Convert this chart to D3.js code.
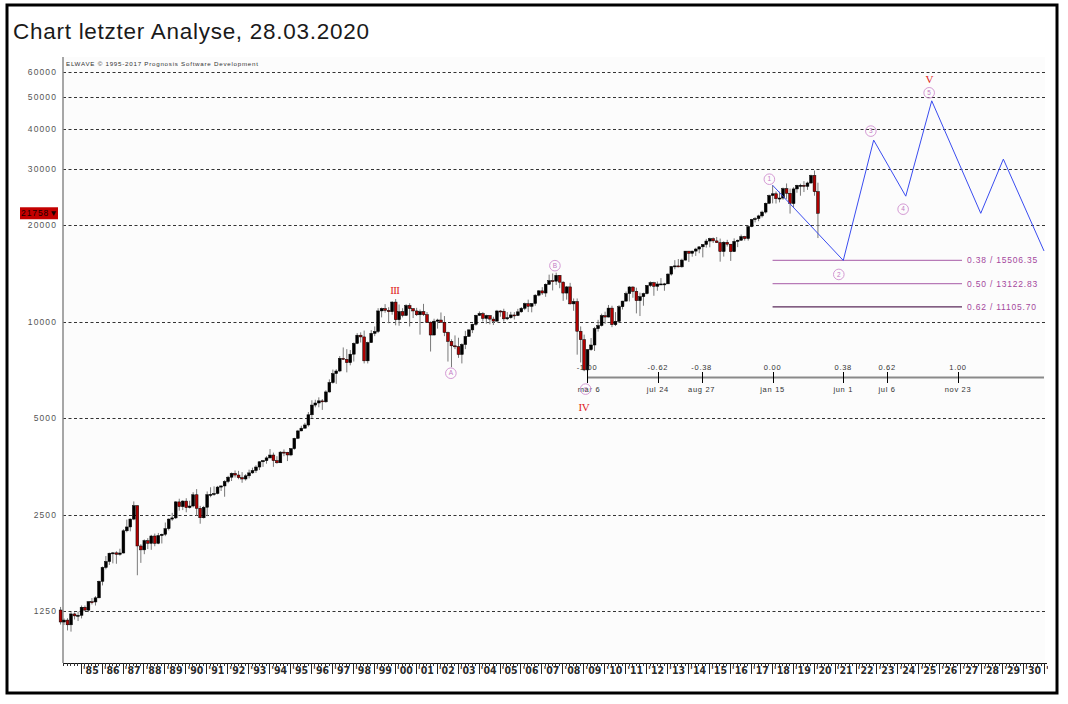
<!DOCTYPE html>
<html><head><meta charset="utf-8">
<script src="https://cdn.jsdelivr.net/npm/d3@7"></script>
<style>body{margin:0;background:#fff;}svg{display:block}</style>
</head><body><svg id="c" width="1068" height="704"></svg>
<script>
// ---------- data ----------
const titleText = "Chart letzter Analyse, 28.03.2020";
const creditText = "ELWAVE © 1995-2017 Prognosis Software Development";
const firstPeriod = "1984-01-01";           // bimonthly bars
const ohlc = [
[1259,1287,1134,1155],[1155,1185,1130,1171],[1171,1187,1087,1132],[1132,1240,1078,1224],[1224,1237,1176,1207],[1207,1245,1163,1212],
[1212,1300,1185,1284],[1284,1300,1247,1258],[1258,1340,1240,1336],[1336,1372,1310,1334],[1334,1390,1300,1374],[1374,1555,1370,1547],
[1547,1720,1502,1709],[1709,1855,1686,1784],[1784,1900,1740,1893],[1893,1910,1760,1898],[1898,1920,1755,1878],[1878,1955,1860,1896],
[1896,2250,1890,2224],[2224,2410,2200,2286],[2286,2430,2215,2419],[2419,2746,2400,2663],[2663,2670,1616,1994],[1994,2020,1766,1939],
[1939,2090,1880,2072],[2072,2110,1950,2032],[2032,2160,1940,2142],[2142,2180,1990,2032],[2032,2190,2020,2149],[2149,2180,2030,2169],
[2169,2360,2140,2258],[2258,2430,2230,2419],[2419,2530,2390,2440],[2440,2750,2420,2737],[2737,2800,2570,2645],[2645,2770,2580,2753],
[2753,2810,2540,2627],[2627,2760,2610,2657],[2657,2935,2630,2881],[2881,3000,2480,2614],[2614,2660,2340,2442],[2442,2660,2430,2634],
[2634,2950,2470,2882],[2882,3040,2830,2888],[2888,3060,2860,2907],[2907,3070,2890,3044],[3044,3080,2960,3069],[3069,3200,2840,3169],
[3169,3300,3130,3268],[3268,3380,3180,3359],[3359,3430,3260,3319],[3319,3420,3220,3257],[3257,3390,3140,3226],[3226,3340,3190,3301],
[3301,3450,3240,3371],[3371,3500,3350,3428],[3428,3560,3370,3516],[3516,3660,3440,3651],[3651,3700,3520,3681],[3681,3800,3600,3754],
[3754,4000,3740,3832],[3832,3900,3520,3682],[3682,3800,3600,3625],[3625,3940,3620,3913],[3913,3990,3800,3908],[3908,3920,3670,3834],
[3834,4030,3800,4011],[4011,4340,3980,4321],[4321,4590,4300,4556],[4556,4730,4550,4647],[4647,4830,4640,4756],[4756,5220,4700,5117],
[5117,5680,5000,5486],[5486,5700,5400,5569],[5569,5800,5400,5655],[5655,5730,5300,5616],[5616,6100,5580,6029],[6029,6600,6000,6448],
[6448,7080,6400,6878],[6878,7100,6390,7009],[7009,7800,6950,7673],[7673,8300,7600,7622],[7622,8200,6940,7442],[7442,8150,7300,7908],
[7908,8600,7500,8546],[8546,9200,8500,9063],[9063,9250,8600,8952],[8952,9370,7400,7539],[7539,8650,7400,8592],[8592,9400,8600,9181],
[9181,9650,9000,9307],[9307,11000,9200,10789],[10789,11050,10300,10971],[10971,11330,10650,10829],[10829,11080,9880,10729],[10729,11570,10500,11497],
[11497,11750,9730,10128],[10128,11300,9700,10734],[10734,11000,10300,10448],[10448,11320,10400,11215],[11215,11400,9650,10971],[10971,10990,10250,10787],
[10787,11030,10400,10495],[10495,10900,9100,10735],[10735,11350,10400,10502],[10502,10700,9900,9950],[9950,10000,8060,9075],[9075,10200,9050,10022],
[10022,10200,9500,10106],[10106,10670,9900,9946],[9946,10400,9000,9243],[9243,9300,7500,8664],[8664,8800,7200,8397],[8397,9050,8200,8342],
[8342,8900,7700,7891],[7891,8550,7400,8480],[8480,9350,8200,8985],[8985,9450,8950,9416],[9416,9850,9200,9801],[9801,10500,9700,10454],
[10454,10750,10400,10584],[10584,10700,10000,10226],[10226,10500,9850,10435],[10435,10470,9800,10174],[10174,10350,9750,10027],[10027,10870,10000,10783],
[10783,10850,10350,10766],[10766,10960,10000,10193],[10193,10700,10100,10275],[10275,10720,10200,10482],[10482,10700,10150,10440],[10440,10950,10400,10718],
[10718,11100,10650,10993],[10993,11450,10850,11367],[11367,11700,10700,11150],[11150,11400,10680,11381],[11381,12170,11200,12081],[12081,12530,11980,12463],
[12463,12800,12100,12269],[12269,13150,11940,13063],[13063,14000,13000,13409],[13409,14120,12500,13358],[13358,14200,13000,13930],[13930,13950,12700,13265],
[13265,13350,11600,12266],[12266,12900,11700,12820],[12820,13200,11300,11350],[11350,11800,10800,11544],[11544,11800,7880,9325],[9325,9650,7450,8776],
[8776,9100,7000,7063],[7063,8200,6470,8168],[8168,8880,8100,8447],[8447,9620,8090,9496],[9496,10120,9300,9713],[9713,10580,9650,10428],
[10428,10730,9830,10325],[10325,11260,10300,11009],[11009,11200,9600,9774],[9774,10700,9680,10015],[10015,11250,9950,11118],[11118,11600,10900,11578],
[11578,12400,11550,12226],[12226,12900,11550,12811],[12811,12880,11860,12414],[12414,12750,10600,11614],[11614,12300,10400,11955],[11955,12300,11200,12218],
[12218,13000,12150,12952],[12952,13340,12800,13214],[13214,13300,12030,12880],[12880,13330,12470,13091],[13091,13660,13000,13096],[13096,13200,12470,13104],
[13104,14150,13100,14054],[14054,14890,13900,14840],[14840,15540,14550,14910],[14910,15660,14760,14810],[14810,15700,14720,15546],[15546,16590,15500,16577],
[16577,16600,15340,16322],[16322,16630,15930,16581],[16581,16980,16020,16827],[16827,17150,16330,17098],[17098,17400,15850,17391],[17391,18100,17000,17823],
[17823,18250,17040,18133],[18133,18290,17580,17841],[17841,18350,17580,17620],[17620,18140,15370,16528],[16528,17800,15940,17664],[17664,17980,17130,17425],
[17425,17450,15450,16517],[16517,18170,16500,17774],[17774,18020,17060,17930],[17930,18670,17850,18401],[18401,18500,17880,18142],[18142,19990,17880,19763],
[19763,20900,19680,20812],[20812,21170,20380,20941],[20941,21530,20550,21350],[21350,22180,21100,21948],[21948,23490,21710,23377],[23377,24880,23240,24719],
[24719,26620,23360,25029],[25029,25450,23340,24163],[24163,25400,23530,24271],[24271,26170,23990,25965],[25965,26950,24120,25116],[25116,25980,21710,23327],
[23327,26240,22640,25916],[25916,26700,25210,26593],[26593,26900,24680,26600],[26600,27400,25340,26403],[26403,27310,25740,27046],[27046,28700,26880,28538],
[28538,29570,24680,25409],[25409,27100,18210,21758]
];
const yTicks = [1250, 2500, 5000, 10000, 20000, 30000, 40000, 50000, 60000];
const lastPrice = 21758;

const fibTimeRatios = ["-1.00","-0.62","-0.38","0.00","0.38","0.62","1.00"];
const fibTimeDates  = ["2009-03-06","2012-07-24","2014-08-27","2018-01-15","2021-06-01","2023-07-06","2026-11-23"];
const fibTimeLabels = ["mar 6","jul 24","aug 27","jan 15","jun 1","jul 6","nov 23"];
const fibTimeEnd = "2031-01-01";

const fibRatios = ["0.38","0.50","0.62"];
const fibPrices = [15506.35, 13122.83, 11105.70];
const fibStart = "2018-01-15", fibEnd = "2027-02-01";

const waveDates  = ["2018-01-15","2021-06-01","2022-11-13","2024-05-26","2025-08-22","2027-12-25","2029-01-22","2031-01-01"];
const waveValues = [26617, 15506, 36800, 24600, 48800, 21750, 32100, 16600];

const circLabels = ["A","B","C","1","2","3","4","5"];
const circDates  = ["2002-09-05","2007-08-25","2009-02-10","2017-11-20","2021-03-15","2022-09-25","2024-04-10","2025-07-08"];
const circValues = [7200, 14200, 6470, 26617, 15506, 36800, 24600, 48800];

const romanLabels = ["III","IV","V"];
const romanDates  = ["2000-01-01","2009-01-10","2025-07-08"];
const romanValues = [11750, 6470, 48800];

// ---------- layout ----------
const svg = d3.select("#c");
const P = {left:63, right:1045, top:57, bottom:663};
const parse = d3.timeParse("%Y-%m-%d");
const x = d3.scaleTime().domain([new Date(1985,0,1), new Date(2026,10,23)]).range([80.7, 958]);
const y = d3.scaleLog().domain([1250, 10000]).range([611, 321.5]);
const SANS = "'Liberation Sans', Arial, sans-serif";

svg.append("rect").attr("width",1068).attr("height",704).attr("fill","#fff");
svg.append("rect").attr("x",7).attr("y",5).attr("width",1050).attr("height",688)
  .attr("fill","#fff").attr("stroke","#000").attr("stroke-width",3);
svg.append("rect").attr("x",P.left).attr("y",P.top).attr("width",P.right-P.left).attr("height",P.bottom-P.top)
  .attr("fill","#fcfcfc");

svg.append("text").attr("x",13).attr("y",39).text(titleText)
  .attr("font-family",SANS).attr("font-size",22.5)
  .attr("fill","#1a1a1a").attr("textLength",356).attr("lengthAdjust","spacing");

svg.append("text").attr("x",66).attr("y",66).text(creditText)
  .attr("font-family",SANS).attr("font-size",6.2)
  .attr("textLength",192).attr("lengthAdjust","spacing").attr("fill","#333");

// grid
svg.append("g").selectAll("line").data(yTicks).join("line")
  .attr("x1",P.left).attr("x2",P.right).attr("y1",d=>Math.round(y(d))+0.5).attr("y2",d=>Math.round(y(d))+0.5)
  .attr("stroke","#333").attr("stroke-dasharray","3,2.5").attr("stroke-width",1);
svg.append("g").selectAll("text").data(yTicks).join("text")
  .attr("x",57).attr("y",d=>y(d)+3).attr("text-anchor","end").text(d=>d)
  .attr("font-family",SANS).attr("font-size",8.5)
  .attr("letter-spacing",1.1).attr("fill","#555");

// axes lines
svg.append("line").attr("x1",P.left).attr("x2",P.left).attr("y1",P.top).attr("y2",P.bottom)
  .attr("stroke","#8a8a8a").attr("stroke-width",1.5);
svg.append("line").attr("x1",P.left).attr("x2",1047).attr("y1",P.bottom+0.5).attr("y2",P.bottom+0.5)
  .attr("stroke","#111").attr("stroke-width",1);

// x axis
svg.append("clipPath").attr("id","xclip").append("rect").attr("x",P.left).attr("y",P.bottom).attr("width",985).attr("height",25);
const xa = svg.append("g").attr("clip-path","url(#xclip)");
const minorTicks = d3.timeMonth.every(2).range(new Date(1984,1,1), new Date(2031,2,1));
xa.selectAll("line.mn").data(minorTicks).join("line").attr("class","mn")
  .attr("x1",d=>Math.round(x(d))+0.5).attr("x2",d=>Math.round(x(d))+0.5)
  .attr("y1",P.bottom).attr("y2",P.bottom+3).attr("stroke","#333").attr("stroke-width",1);
const years = d3.timeYear.range(new Date(1985,0,1), new Date(2031,6,1));
xa.selectAll("line.mj").data(years).join("line").attr("class","mj")
  .attr("x1",d=>Math.round(x(d))+0.5).attr("x2",d=>Math.round(x(d))+0.5)
  .attr("y1",P.bottom).attr("y2",P.bottom+11).attr("stroke","#222").attr("stroke-width",1);
xa.selectAll("text").data(years).join("text")
  .attr("x",d=>x(d)+2).attr("y",P.bottom+11).text(d3.timeFormat("'%y"))
  .attr("font-family","'Liberation Sans Narrow','DejaVu Sans Condensed',sans-serif")
  .attr("font-weight","bold").attr("font-size",10.5).attr("fill","#2a2a2a");

// candles
const t0 = parse(firstPeriod);
const bars = ohlc.map((d,i)=>({date:d3.timeDay.offset(d3.timeMonth.offset(t0,2*i),15), o:d[0],h:d[1],l:d[2],c:d[3]}));
const cg = svg.append("g");
cg.selectAll("line").data(bars).join("line")
  .attr("x1",d=>x(d.date)).attr("x2",d=>x(d.date)).attr("y1",d=>y(d.h)).attr("y2",d=>y(d.l))
  .attr("stroke","#7a7a7a").attr("stroke-width",1);
cg.selectAll("rect").data(bars).join("rect")
  .attr("x",d=>x(d.date)-1.4).attr("width",2.8)
  .attr("y",d=>y(Math.max(d.o,d.c))).attr("height",d=>Math.max(1,Math.abs(y(d.o)-y(d.c))))
  .attr("fill",d=>d.c>=d.o?"#000":"#b00000").attr("stroke","#000").attr("stroke-width",0.5);

// last price marker
const ly = y(lastPrice);
svg.append("rect").attr("x",20).attr("y",ly-6).attr("width",38).attr("height",12).attr("fill","#c40000");
svg.append("text").attr("x",21).attr("y",ly+3.2).text(lastPrice+"▼")
  .attr("font-family",SANS).attr("font-size",8.5)
  .attr("letter-spacing",0.9).attr("fill","#1a0000");

// fib time axis
const fy = 377.5;
const fd = fibTimeDates.map(parse);
svg.append("line").attr("x1",x(fd[0])).attr("x2",x(parse(fibTimeEnd))).attr("y1",fy).attr("y2",fy)
  .attr("stroke","#8a8a8a").attr("stroke-width",2);
const ft = svg.append("g");
ft.selectAll("line").data(fd).join("line")
  .attr("x1",d=>Math.round(x(d))+0.5).attr("x2",d=>Math.round(x(d))+0.5)
  .attr("y1",(d,i)=>i===0?370:372).attr("y2",383).attr("stroke","#000").attr("stroke-width",1);
ft.selectAll("text.r").data(fd).join("text").attr("class","r")
  .attr("x",d=>x(d)).attr("y",369.5).attr("text-anchor","middle").text((d,i)=>fibTimeRatios[i])
  .attr("font-family",SANS).attr("font-size",7.5)
  .attr("letter-spacing",0.7).attr("fill","#333");
ft.selectAll("text.d").data(fd).join("text").attr("class","d")
  .attr("x",(d,i)=>x(d)+(i===0?2:0)).attr("y",392).attr("text-anchor","middle").text((d,i)=>fibTimeLabels[i])
  .attr("font-family",SANS).attr("font-size",7.5)
  .attr("letter-spacing",0.7).attr("fill","#333");

// fib price levels
const fpc = ["#b77ab7","#b77ab7","#5a2a5a"];
const fp = svg.append("g");
fp.selectAll("line").data(fibPrices).join("line")
  .attr("x1",x(parse(fibStart))).attr("x2",x(parse(fibEnd)))
  .attr("y1",d=>y(d)).attr("y2",d=>y(d)).attr("stroke",(d,i)=>fpc[i]).attr("stroke-width",1.2);
fp.selectAll("text").data(fibPrices).join("text")
  .attr("x",x(parse(fibEnd))+5).attr("y",d=>y(d)+3).text((d,i)=>fibRatios[i]+" / "+d.toFixed(2))
  .attr("font-family",SANS).attr("font-size",8.5)
  .attr("letter-spacing",0.8).attr("fill","#a4489c");

// projection
const wave = waveDates.map((d,i)=>[parse(d), waveValues[i]]);
svg.append("path").datum(wave)
  .attr("d", d3.line().x(d=>x(d[0])).y(d=>y(d[1])))
  .attr("fill","none").attr("stroke","#3a4cf0").attr("stroke-width",1);

// circled labels
const offC = {A:6,B:-7,C:7,"1":-6,"2":14,"3":-9,"4":13,"5":-8};
const cl = svg.append("g");
circLabels.forEach((lab,i)=>{
  const cx = x(parse(circDates[i])), cy = y(circValues[i]) + offC[lab];
  cl.append("circle").attr("cx",cx).attr("cy",cy).attr("r",5.3)
    .attr("fill","none").attr("stroke","#d49ad4").attr("stroke-width",1);
  cl.append("text").attr("x",cx).attr("y",cy+2.2).attr("text-anchor","middle").text(lab)
    .attr("font-family",SANS).attr("font-size",lab==="C"?5.5:6.5).attr("fill","#c47ac4");
});
const offR = {III:-9, IV:25, V:-22};
romanLabels.forEach((lab,i)=>{
  svg.append("text").attr("x",x(parse(romanDates[i]))).attr("y",y(romanValues[i])+offR[lab]+4)
    .attr("text-anchor","middle").text(lab)
    .attr("font-family","'Liberation Serif','DejaVu Serif',serif").attr("font-size",11)
    .attr("letter-spacing",-0.6).attr("fill","#e02020");
});
</script></body></html>
